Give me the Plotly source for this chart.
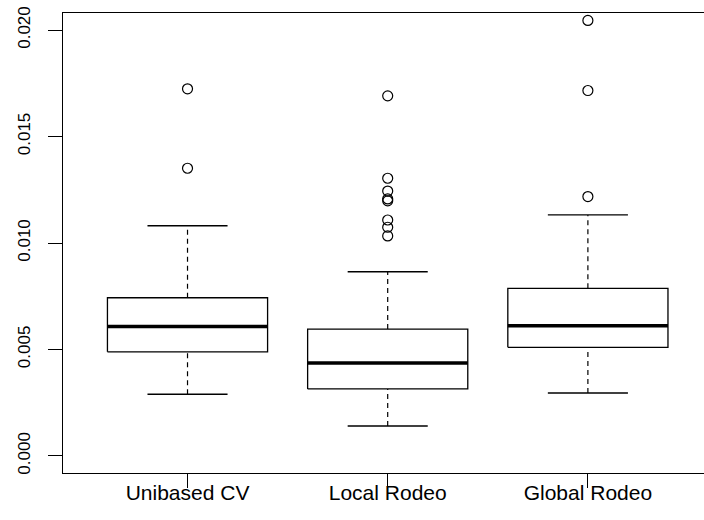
import plotly.graph_objects as go

# Group labels and five-number summaries (lower whisker, Q1, median, Q3, upper whisker)
groups = ["Unibased CV", "Local Rodeo", "Global Rodeo"]
lower_whisker = [0.00290, 0.00141, 0.00296]
q1 = [0.00489, 0.00315, 0.00510]
median = [0.00608, 0.00437, 0.00611]
q3 = [0.00743, 0.00596, 0.00787]
upper_whisker = [0.01081, 0.00865, 0.01132]

# Points beyond the whiskers
outliers_unibased = [0.01724, 0.01351]
outliers_local = [0.01691, 0.01304, 0.01244, 0.01207, 0.01198, 0.01108, 0.01074, 0.01033]
outliers_global = [0.02045, 0.01716, 0.01218]
outliers = [outliers_unibased, outliers_local, outliers_global]

y_tick_vals = [0.000, 0.005, 0.010, 0.015, 0.020]
y_tick_text = ["0.000", "0.005", "0.010", "0.015", "0.020"]

BOX_HALF = 0.4
CAP_HALF = 0.2
BLACK = "#000000"

fig = go.Figure()

for i, name in enumerate(groups):
    pos = i + 1
    # dashed whiskers
    fig.add_trace(go.Scatter(
        x=[pos, pos, None, pos, pos],
        y=[q3[i], upper_whisker[i], None, lower_whisker[i], q1[i]],
        mode="lines", line=dict(color=BLACK, width=1.2, dash="5px,4px"),
        hoverinfo="skip", showlegend=False))
    # whisker caps
    fig.add_trace(go.Scatter(
        x=[pos - CAP_HALF, pos + CAP_HALF, None, pos - CAP_HALF, pos + CAP_HALF],
        y=[upper_whisker[i], upper_whisker[i], None, lower_whisker[i], lower_whisker[i]],
        mode="lines", line=dict(color=BLACK, width=1.4),
        hoverinfo="skip", showlegend=False))
    # box
    fig.add_trace(go.Scatter(
        x=[pos - BOX_HALF, pos + BOX_HALF, pos + BOX_HALF, pos - BOX_HALF, pos - BOX_HALF],
        y=[q1[i], q1[i], q3[i], q3[i], q1[i]],
        mode="lines", line=dict(color=BLACK, width=1.3),
        hoverinfo="skip", showlegend=False))
    # median
    fig.add_trace(go.Scatter(
        x=[pos - BOX_HALF, pos + BOX_HALF],
        y=[median[i], median[i]],
        mode="lines", line=dict(color=BLACK, width=3.5),
        hoverinfo="skip", showlegend=False))
    # outliers
    fig.add_trace(go.Scatter(
        x=[pos] * len(outliers[i]), y=outliers[i],
        mode="markers",
        marker=dict(symbol="circle-open", size=10, color=BLACK, line=dict(width=1.2)),
        showlegend=False))

fig.update_layout(
    width=704, height=520,
    margin=dict(l=63, r=0, t=13, b=47),
    paper_bgcolor="white", plot_bgcolor="white",
    font=dict(family="Liberation Sans, Arial, sans-serif", color=BLACK),
)

fig.update_xaxes(
    range=[0.378, 3.58],
    tickvals=[1, 2, 3], ticktext=groups,
    ticks="outside", ticklen=14, tickwidth=1, tickcolor=BLACK,
    tickfont=dict(size=21, color=BLACK), ticklabelstandoff=-13,
    showline=True, linecolor=BLACK, linewidth=1, mirror=True,
    showgrid=False, zeroline=False,
)
fig.update_yaxes(
    range=[-0.0008, 0.0208],
    tickvals=y_tick_vals, ticktext=y_tick_text, tickangle=-90,
    ticks="outside", ticklen=14, tickwidth=1, tickcolor=BLACK,
    tickfont=dict(size=17, color=BLACK), ticklabelstandoff=11,
    showline=True, linecolor=BLACK, linewidth=1, mirror=False,
    showgrid=False, zeroline=False,
)

fig.write_html("out.html")
